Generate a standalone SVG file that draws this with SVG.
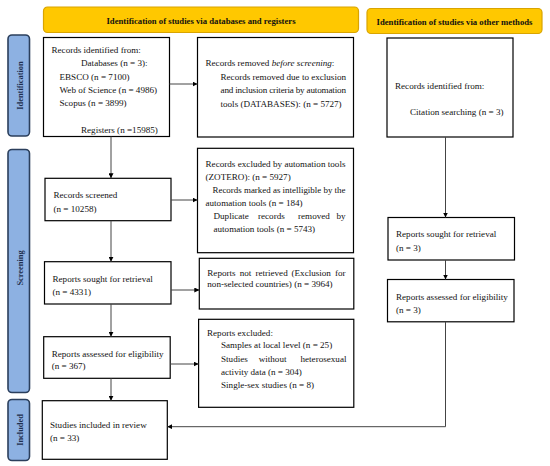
<svg xmlns="http://www.w3.org/2000/svg" width="550" height="466" viewBox="0 0 550 466">
<defs>
<marker id="ah" viewBox="0 0 10 10" refX="10" refY="5" markerWidth="5" markerHeight="5" markerUnits="userSpaceOnUse" orient="auto">
<path d="M0,0 L10,5 L0,10 z" fill="#000"/>
</marker>
<style>
.hdr{fill:#FFC800;stroke:#D9A400;stroke-width:1.2}
.side{fill:#8DB1E2;stroke:#2B3F5C;stroke-width:1.6}
.box{fill:#fff;stroke:#000;stroke-width:1.2}
.t{font-family:"Liberation Serif","Times New Roman",serif;font-size:9.1px;fill:#111}
.ht{font-family:"Liberation Serif","Times New Roman",serif;font-size:8.7px;font-weight:bold;fill:#111;text-anchor:middle}
.st{font-family:"Liberation Serif","Times New Roman",serif;font-size:8.4px;font-weight:bold;fill:#1F3050;text-anchor:middle}
.c{fill:none;stroke:#444;stroke-width:1}
</style>
</defs>
<rect width="550" height="466" fill="#fff"/>

<g id="header-databases"><rect class="hdr" x="43.5" y="7" width="315" height="25.5" rx="4"/><text class="ht" x="201" y="24">Identification of studies via databases and registers</text></g>
<g id="header-other"><rect class="hdr" x="367" y="8.5" width="175" height="25" rx="4"/><text class="ht" x="454.5" y="25">Identification of studies via other methods</text></g>

<g id="side-identification"><rect class="side" x="8" y="35" width="21.5" height="101" rx="4"/><text class="st" transform="translate(22.5,85.5) rotate(-90)">Identification</text></g>
<g id="side-screening"><rect class="side" x="8" y="149.5" width="21.5" height="243" rx="4"/><text class="st" transform="translate(22.5,268) rotate(-90)">Screening</text></g>
<g id="side-included"><rect class="side" x="8" y="399.5" width="21.5" height="61" rx="4"/><text class="st" transform="translate(22.5,430) rotate(-90)">Included</text></g>

<g id="records-identified">
<rect class="box" x="43.5" y="37.5" width="126" height="99"/>
<text class="t" x="51.5" y="52.5">Records identified from:</text>
<text class="t" x="81" y="66">Databases (n = 3):</text>
<text class="t" x="59.5" y="79.5">EBSCO (n = 7100)</text>
<text class="t" x="59.5" y="92.5">Web of Science (n = 4986)</text>
<text class="t" x="59.5" y="106">Scopus (n = 3899)</text>
<text class="t" x="81" y="132.5">Registers (n =15985)</text>
</g>

<g id="records-removed">
<rect class="box" x="197.5" y="37.5" width="156" height="99.5"/>
<text class="t" x="205.5" y="66">Records removed <tspan font-style="italic">before screening</tspan>:</text>
<text class="t" x="220.5" y="80" textLength="125.5" lengthAdjust="spacing">Records removed due to exclusion</text>
<text class="t" x="220.5" y="93.3" textLength="125.5" lengthAdjust="spacing">and inclusion criteria by automation</text>
<text class="t" x="220.5" y="106.7">tools (DATABASES): (n = 5727)</text>
</g>

<g id="records-other">
<rect class="box" x="387" y="38" width="126" height="99"/>
<text class="t" x="395" y="89">Records identified from:</text>
<text class="t" x="410" y="115">Citation searching (n = 3)</text>
</g>

<g id="records-screened">
<rect class="box" x="45" y="178.3" width="126" height="42.4"/>
<text class="t" x="53.5" y="198">Records screened</text>
<text class="t" x="53.5" y="211.5">(n = 10258)</text>
</g>

<g id="records-excluded">
<rect class="box" x="197.5" y="148.3" width="156" height="104.4"/>
<text class="t" x="205.5" y="166.5" textLength="140" lengthAdjust="spacing">Records excluded by automation tools</text>
<text class="t" x="205.5" y="179.5">(ZOTERO): (n = 5927)</text>
<text class="t" x="212.5" y="192.5" textLength="133" lengthAdjust="spacingAndGlyphs">Records marked as intelligible by the</text>
<text class="t" x="205.5" y="205.5">automation tools (n = 184)</text>
<text class="t" y="218.5"><tspan x="213.5">Duplicate</tspan><tspan x="258">records</tspan><tspan x="298">removed</tspan><tspan x="336.5">by</tspan></text>
<text class="t" x="213.5" y="232">automation tools (n = 5743)</text>
</g>

<g id="reports-sought">
<rect class="box" x="44.5" y="261.7" width="126.5" height="42.3"/>
<text class="t" x="52.5" y="281.5">Reports sought for retrieval</text>
<text class="t" x="52.5" y="295">(n = 4331)</text>
</g>

<g id="reports-not-retrieved">
<rect class="box" x="199.3" y="258.3" width="154.5" height="50.7"/>
<text class="t" y="276"><tspan x="207.3">Reports</tspan><tspan x="239.7">not</tspan><tspan x="255.4">retrieved</tspan><tspan x="291.5">(Exclusion</tspan><tspan x="335">for</tspan></text>
<text class="t" x="207.3" y="287.3">non-selected countries) (n = 3964)</text>
</g>

<g id="reports-sought-other">
<rect class="box" x="388" y="217.5" width="126.5" height="42.5"/>
<text class="t" x="396" y="237.2">Reports sought for retrieval</text>
<text class="t" x="396" y="250.5">(n = 3)</text>
</g>

<g id="reports-assessed-other">
<rect class="box" x="387.5" y="279.5" width="126.5" height="42.3"/>
<text class="t" x="396" y="300">Reports assessed for eligibility</text>
<text class="t" x="396" y="312.5">(n = 3)</text>
</g>

<g id="reports-assessed">
<rect class="box" x="43.7" y="336.7" width="126.5" height="41.6"/>
<text class="t" x="51.7" y="356.5">Reports assessed for eligibility</text>
<text class="t" x="51.7" y="369">(n = 367)</text>
</g>

<g id="reports-excluded">
<rect class="box" x="198.6" y="319.3" width="155.2" height="88"/>
<text class="t" x="207" y="335.5">Reports excluded:</text>
<text class="t" x="221" y="348.2">Samples at local level (n = 25)</text>
<text class="t" y="361.5"><tspan x="221">Studies</tspan><tspan x="258.7">without</tspan><tspan x="300.5">heterosexual</tspan></text>
<text class="t" x="221" y="375">activity data (n = 304)</text>
<text class="t" x="221" y="387.5">Single-sex studies (n = 8)</text>
</g>

<g id="studies-included">
<rect class="box" x="42.3" y="400.7" width="125" height="58.6"/>
<text class="t" x="50" y="427.5">Studies included in review</text>
<text class="t" x="50" y="441">(n = 33)</text>
</g>

<g id="connectors">
<path class="c" d="M169.5,84 H197.5" marker-end="url(#ah)"/>
<path class="c" d="M111,136.5 V178.3" marker-end="url(#ah)"/>
<path class="c" d="M171,200 H197.5" marker-end="url(#ah)"/>
<path class="c" d="M111,220.7 V261.7" marker-end="url(#ah)"/>
<path class="c" d="M171,290 H199.3" marker-end="url(#ah)"/>
<path class="c" d="M111,304 V336.7" marker-end="url(#ah)"/>
<path class="c" d="M170.2,364 H198.6" marker-end="url(#ah)"/>
<path class="c" d="M111,378.3 V400.7" marker-end="url(#ah)"/>
<path class="c" d="M445.5,137 V217.5" marker-end="url(#ah)"/>
<path class="c" d="M445.5,260 V279.5" marker-end="url(#ah)"/>
<path class="c" d="M445.5,321.8 V426.7 H167.3" marker-end="url(#ah)"/>
</g>
</svg>
